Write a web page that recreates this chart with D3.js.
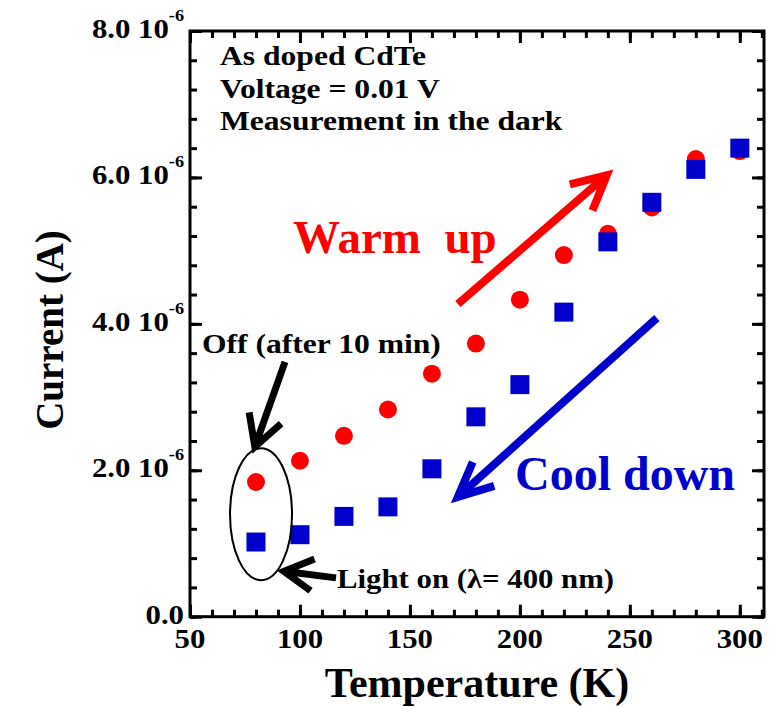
<!DOCTYPE html>
<html>
<head>
<meta charset="utf-8">
<title>Current vs Temperature</title>
<script src="https://cdn.jsdelivr.net/npm/d3@7/dist/d3.min.js"></script>
<style>
  body { margin: 0; background: #fff; }
  svg text { font-family: "Liberation Serif", "Times New Roman", serif; font-weight: bold; }
</style>
</head>
<body>
<div id="chart"></div>
<script>
// temperature in K, current in units of 1e-6 A
var temperature = [80, 100, 120, 140, 160, 180, 200, 220, 240, 260, 280, 300];
var warmUp   = [1.84, 2.13, 2.47, 2.83, 3.32, 3.73, 4.33, 4.94, 5.23, 5.59, 6.25, 6.36];
var coolDown = [1.02, 1.12, 1.37, 1.50, 2.02, 2.73, 3.17, 4.16, 5.12, 5.66, 6.11, 6.40];

var xTicks = [50, 100, 150, 200, 250, 300];
var yTicks = [0, 2, 4, 6, 8];
var infoLines = ["As doped CdTe", "Voltage = 0.01 V", "Measurement in the dark"];

var width = 781, height = 707;
var plotLeft = 190, plotRight = 764, plotTop = 31, plotBottom = 616.7;
var red = "#ff0000", blue = "#0000cc";
var sx = 1.14;   // the small labels are a bit wider than plain Times

var svg = d3.select("#chart").append("svg")
    .attr("width", width)
    .attr("height", height);

var x = d3.scaleLinear().domain([50, 311]).range([plotLeft, plotRight]);
var y = d3.scaleLinear().domain([0, 8]).range([plotBottom, plotTop]);

var xMinor = d3.range(50, 311, 10);
var yMinor = d3.range(0, 8.01, 0.4);

function addAxis(axisFn, scale, values, size, tx, ty) {
    var g = svg.append("g")
        .attr("transform", "translate(" + tx + "," + ty + ")")
        .call(axisFn(scale).tickValues(values).tickSize(-size).tickSizeOuter(0).tickFormat(""));
    g.select(".domain").remove();
    g.selectAll("line").attr("stroke", "#000").attr("stroke-width", 3);
}

// minor then major ticks on all four sides (inward)
addAxis(d3.axisBottom, x, xMinor, 7, 0, plotBottom);
addAxis(d3.axisBottom, x, xTicks, 12, 0, plotBottom);
addAxis(d3.axisTop, x, xMinor, 7, 0, plotTop);
addAxis(d3.axisTop, x, xTicks, 12, 0, plotTop);
addAxis(d3.axisLeft, y, yMinor, 7, plotLeft, 0);
addAxis(d3.axisLeft, y, yTicks, 12, plotLeft, 0);
addAxis(d3.axisRight, y, yMinor, 7, plotRight, 0);
addAxis(d3.axisRight, y, yTicks, 12, plotRight, 0);

svg.append("rect")
    .attr("x", plotLeft).attr("y", plotTop)
    .attr("width", plotRight - plotLeft).attr("height", plotBottom - plotTop)
    .attr("fill", "none").attr("stroke", "#000").attr("stroke-width", 3);

function label(x0, y0, str, size, anchor, fill, scaleX) {
    return svg.append("text")
        .attr("transform", "translate(" + x0 + "," + y0 + ") scale(" + scaleX + ",1)")
        .attr("text-anchor", anchor)
        .attr("font-size", size)
        .attr("fill", fill)
        .text(str);
}

// x tick labels
xTicks.forEach(function (t) {
    label(x(t), 648, t, 27, "middle", "#000", sx);
});

// y tick labels with exponent
yTicks.forEach(function (v) {
    var t = label(184, y(v) + 7, "", 27, "end", "#000", sx);
    if (v === 0) {
        t.text("0.0");
    } else {
        t.append("tspan").text(v.toFixed(1) + " 10");
        t.append("tspan").attr("font-size", 16).attr("dy", -17).text("-6");
    }
});

// axis titles
label((plotLeft + plotRight) / 2, 697, "Temperature (K)", 42, "middle", "#000", 1);
svg.append("text")
    .attr("transform", "translate(63,330) rotate(-90)")
    .attr("text-anchor", "middle")
    .attr("font-size", 39)
    .text("Current (A)");

// info text
infoLines.forEach(function (s, i) {
    label(220, 65 + i * 32.5, s, 27, "start", "#000", 1.17);
});

// data
svg.append("g").selectAll("circle")
    .data(warmUp)
    .enter().append("circle")
    .attr("cx", function (d, i) { return x(temperature[i]); })
    .attr("cy", function (d) { return y(d); })
    .attr("r", 9)
    .attr("fill", red);

svg.append("g").selectAll("rect")
    .data(coolDown)
    .enter().append("rect")
    .attr("x", function (d, i) { return x(temperature[i]) - 9.5; })
    .attr("y", function (d) { return y(d) - 9.5; })
    .attr("width", 19)
    .attr("height", 19)
    .attr("fill", blue);

// arrows: tail (T, I) -> tip (T, I)
function arrow(t0, i0, t1, i1, color, w, len, ang) {
    var x0 = x(t0), y0 = y(i0), x1 = x(t1), y1 = y(i1);
    var back = Math.atan2(y0 - y1, x0 - x1);
    var a = ang * Math.PI / 180;
    var w1 = [x1 + len * Math.cos(back + a), y1 + len * Math.sin(back + a)];
    var w2 = [x1 + len * Math.cos(back - a), y1 + len * Math.sin(back - a)];
    svg.append("path")
        .attr("d", "M" + x0 + "," + y0 + "L" + x1 + "," + y1 +
                   "M" + w1 + "L" + x1 + "," + y1 + "L" + w2)
        .attr("fill", "none")
        .attr("stroke", color)
        .attr("stroke-width", w)
        .attr("stroke-linejoin", "miter");
}

arrow(171.8, 4.27, 239.5, 6.03, red, 8, 38, 27);
arrow(262.3, 4.08, 171.8, 1.635, blue, 8, 38, 25);
arrow(93.2, 3.48, 79.5, 2.32, "#000", 7, 35, 29);
arrow(116.4, 0.53, 92.7, 0.62, "#000", 7, 33, 29);

// ellipse around the 80 K points
svg.append("ellipse")
    .attr("cx", x(82.3)).attr("cy", y(1.40))
    .attr("rx", 31).attr("ry", 66)
    .attr("fill", "none").attr("stroke", "#000").attr("stroke-width", 2);

// annotations
label(293, 253, "Warm  up", 47, "start", red, 1).style("white-space", "pre");
label(515, 490, "Cool down", 48, "start", blue, 1);
label(202, 353, "Off (after 10 min)", 27, "start", "#000", 1.17);
label(337, 588, "Light on (\u03bb= 400 nm)", 27, "start", "#000", 1.14);
</script>
</body>
</html>
